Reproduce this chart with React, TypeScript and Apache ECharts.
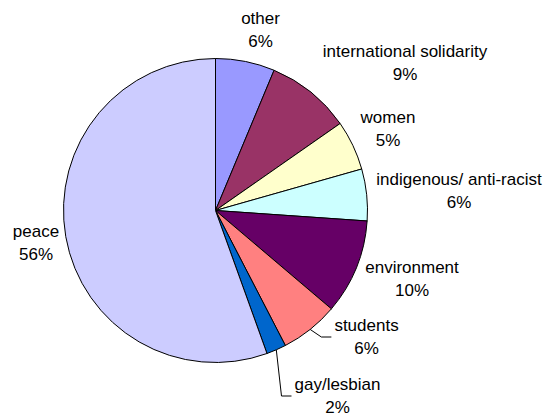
import React, { useEffect, useRef } from "react";
import * as echarts from "echarts";

const categories = [
  "other",
  "international solidarity",
  "women",
  "indigenous/ anti-racist",
  "environment",
  "students",
  "gay/lesbian",
  "peace",
];
const values = [6.3, 9.0, 5.3, 5.5, 10.1, 6.2, 2.1, 55.5];
const colors = ["#9999FF", "#993366", "#FFFFCC", "#CCFFFF", "#660066", "#FF8080", "#0066CC", "#CCCCFF"];

// label layout (centre of each two-line label block)
const labelPos: [number, number][] = [
  [260.5, 29.5],
  [405, 63],
  [388, 129],
  [459, 191],
  [412, 278.5],
  [366.5, 337],
  [337.5, 396],
  [36, 242.5],
];
const withLeader = [false, false, false, false, false, true, true, false];

const CX = 215.5;
const CY = 210.5;
const R = 152;

export default function App() {
  const ref = useRef<HTMLDivElement>(null);
  useEffect(() => {
    if (!ref.current) return;
    const chart = echarts.init(ref.current, null, { renderer: "svg" });
    const total = values.reduce((a, b) => a + b, 0);
    const midAngles: number[] = [];
    let cum = 0;
    values.forEach((v) => {
      midAngles.push(((cum + v / 2) / total) * Math.PI * 2);
      cum += v;
    });
    chart.setOption({
      animation: false,
      textStyle: { fontFamily: "'Liberation Sans', Arial, sans-serif" },
      series: [
        {
          type: "pie",
          center: [CX, CY],
          radius: [0, R],
          startAngle: 90,
          clockwise: true,
          avoidLabelOverlap: false,
          percentPrecision: 0,
          itemStyle: { borderColor: "#000", borderWidth: 1 },
          emphasis: { disabled: true },
          label: {
            show: true,
            position: "outside",
            formatter: "{b}\n{d}%",
            color: "#000",
            fontSize: 17,
            lineHeight: 23,
            align: "center",
            fontFamily: "'Liberation Sans', Arial, sans-serif",
          },
          labelLine: { show: false, lineStyle: { color: "#000", width: 1 } },
          labelLayout: (params: any) => {
            const i = params.dataIndex;
            const [x, y] = labelPos[i];
            const out: any = { x, y, align: "center", verticalAlign: "middle" };
            if (withLeader[i]) {
              const a = midAngles[i];
              const sx = CX + R * Math.sin(a);
              const sy = CY - R * Math.cos(a);
              const w = params.labelRect ? params.labelRect.width : 60;
              const left = x - w / 2 - 3;
              out.labelLinePoints = [
                [sx, sy],
                [left - 10, y],
                [left, y],
              ];
            }
            return out;
          },
          data: categories.map((name, i) => ({
            name,
            value: values[i],
            itemStyle: { color: colors[i] },
            labelLine: { show: withLeader[i] },
          })),
        },
      ],
    });
    return () => chart.dispose();
  }, []);
  return (
    <div
      ref={ref}
      style={{ position: "absolute", left: 0, top: 0, width: 552, height: 417, background: "#fff" }}
    />
  );
}
